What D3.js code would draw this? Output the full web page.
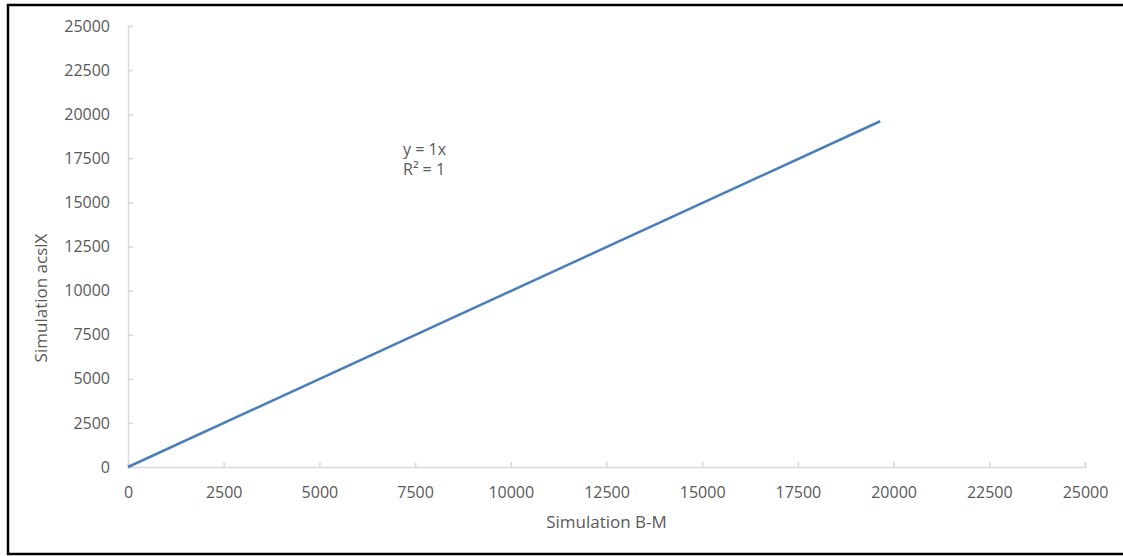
<!DOCTYPE html>
<html>
<head>
<meta charset="utf-8">
<script src="https://cdn.jsdelivr.net/npm/d3@7"></script>
<style>
  body { margin: 0; background: #fff; }
  text { font-family: "Open Sans", sans-serif; fill: #595959; }
</style>
</head>
<body>
<div id="chart"></div>
<script>
// values
var simBM = [0, 19650];
var simAcslX = [0, 19600];
var xTicks = [0, 2500, 5000, 7500, 10000, 12500, 15000, 17500, 20000, 22500, 25000];
var yTicks = [0, 2500, 5000, 7500, 10000, 12500, 15000, 17500, 20000, 22500, 25000];
var equationLines = ["y = 1x", "R\u00b2 = 1"];

var svgWidth = 1123;
var svgHeight = 556;

var margin = { top: 26, bottom: 89, left: 128, right: 38 };
var plotWidth = svgWidth - (margin.left + margin.right);
var plotHeight = svgHeight - (margin.top + margin.bottom);

var svg = d3.select("#chart")
    .append("svg")
    .attr("width", svgWidth)
    .attr("height", svgHeight);

// frame
svg.append("rect")
    .attr("x", 8)
    .attr("y", 5)
    .attr("width", svgWidth)
    .attr("height", 549)
    .attr("fill", "none")
    .attr("stroke", "#000")
    .attr("stroke-width", 2.5);

var chartGroup = svg.append("g")
    .attr("transform", `translate(${margin.left}, ${margin.top})`);

var xScale = d3.scaleLinear().domain([0, 25000]).range([0, plotWidth]);
var yScale = d3.scaleLinear().domain([0, 25000]).range([plotHeight, 0]);

var bottomAxis = d3.axisBottom(xScale).tickValues(xTicks).tickSizeInner(-5).tickSizeOuter(-5).tickPadding(20).tickFormat(d3.format("d"));
var leftAxis = d3.axisLeft(yScale).tickValues(yTicks).tickSizeInner(-5).tickSizeOuter(-5).tickPadding(18).tickFormat(d3.format("d"));

var xG = chartGroup.append("g")
    .attr("transform", `translate(0, ${plotHeight})`)
    .call(bottomAxis);
var yG = chartGroup.append("g").call(leftAxis);

[xG, yG].forEach(function(g) {
    g.select(".domain").attr("stroke", "#d9d9d9").attr("stroke-width", 1.5);
    g.selectAll(".tick line").attr("stroke", "#d9d9d9").attr("stroke-width", 1.5);
    g.selectAll(".tick text").style("font-size", "16px").attr("fill", "#595959");
});

// series line
var pts = simBM.map((d, i) => [d, simAcslX[i]]);
chartGroup.append("path")
    .datum(pts)
    .attr("fill", "none")
    .attr("stroke", "#4a7ebb")
    .attr("stroke-width", 2.5)
    .attr("d", d3.line().x(d => xScale(d[0])).y(d => yScale(d[1])));

// trendline label
chartGroup.append("text")
    .attr("x", 275)
    .attr("y", 129)
    .style("font-size", "16px")
    .selectAll("tspan")
    .data(equationLines)
    .join("tspan")
    .attr("x", 275)
    .attr("dy", (d, i) => i === 0 ? 0 : 20)
    .text(d => d);

// axis titles
svg.append("text")
    .attr("x", margin.left + plotWidth / 2)
    .attr("y", 528)
    .attr("text-anchor", "middle")
    .style("font-size", "17px")
    .text("Simulation B-M");

svg.append("text")
    .attr("transform", "translate(41, 298) rotate(-90)")
    .attr("text-anchor", "middle")
    .attr("dy", "0.35em")
    .style("font-size", "17px")
    .text("Simulation acslX");
</script>
</body>
</html>
